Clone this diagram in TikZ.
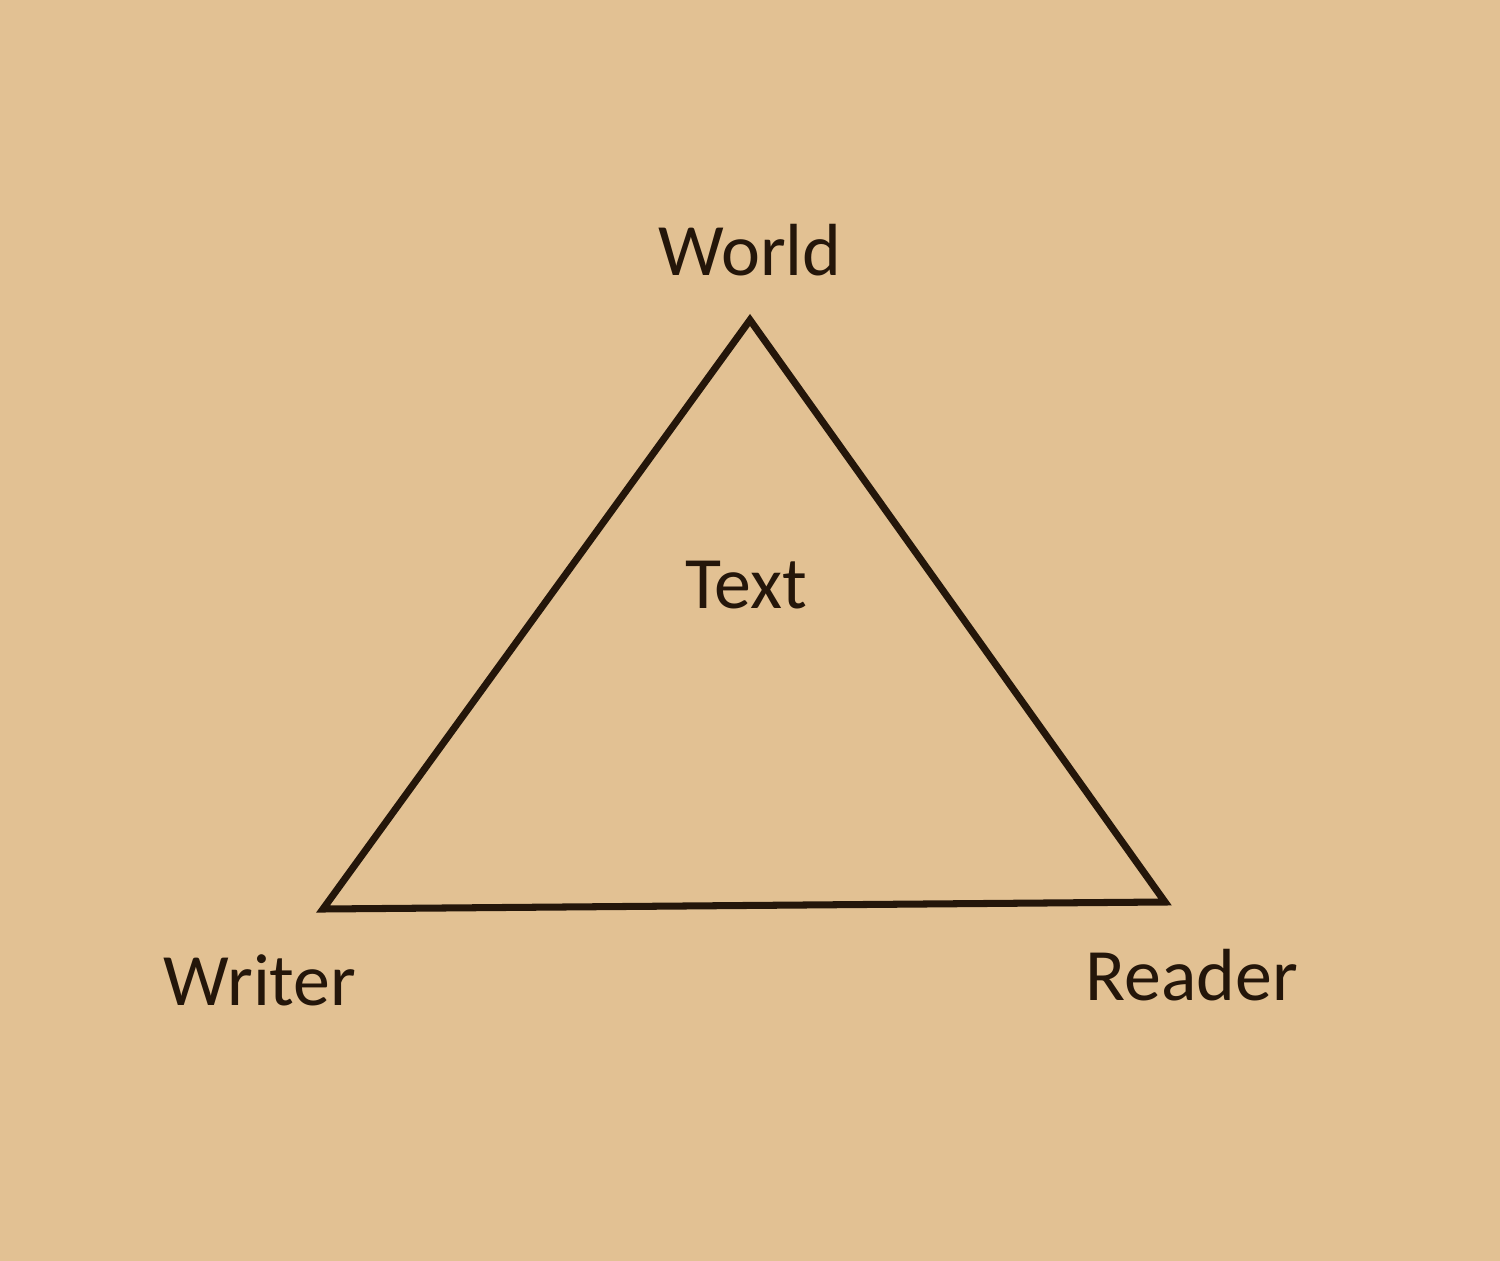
\documentclass[tikz,border=0pt]{standalone}
\usepackage{fontspec}
\setmainfont{Carlito}
\definecolor{bg}{HTML}{E2C193}
\definecolor{ink}{HTML}{24160A}
\begin{document}
\begin{tikzpicture}[x=0.01cm,y=-0.01cm,
  lbl/.style={font=\fontsize{21}{25}\selectfont, text=ink, inner sep=0pt},
  edge/.style={draw=ink, line width=2pt, line join=miter}]
\fill[bg] (0,0) rectangle (1500,1261);
\useasboundingbox (0,0) rectangle (1500,1261);
\coordinate (top) at (750,320);
\coordinate (bl) at (323,909);
\coordinate (br) at (1165,902);
\draw[edge] (top) -- (br) -- (bl) -- cycle;
\node[lbl] (world) at (750,250) {World};
\node[lbl] (text) at (746,585) {Text};
\node[lbl] (writer) at (260,980) {Writer};
\node[lbl] (reader) at (1192,975) {Reader};
\end{tikzpicture}
\end{document}
